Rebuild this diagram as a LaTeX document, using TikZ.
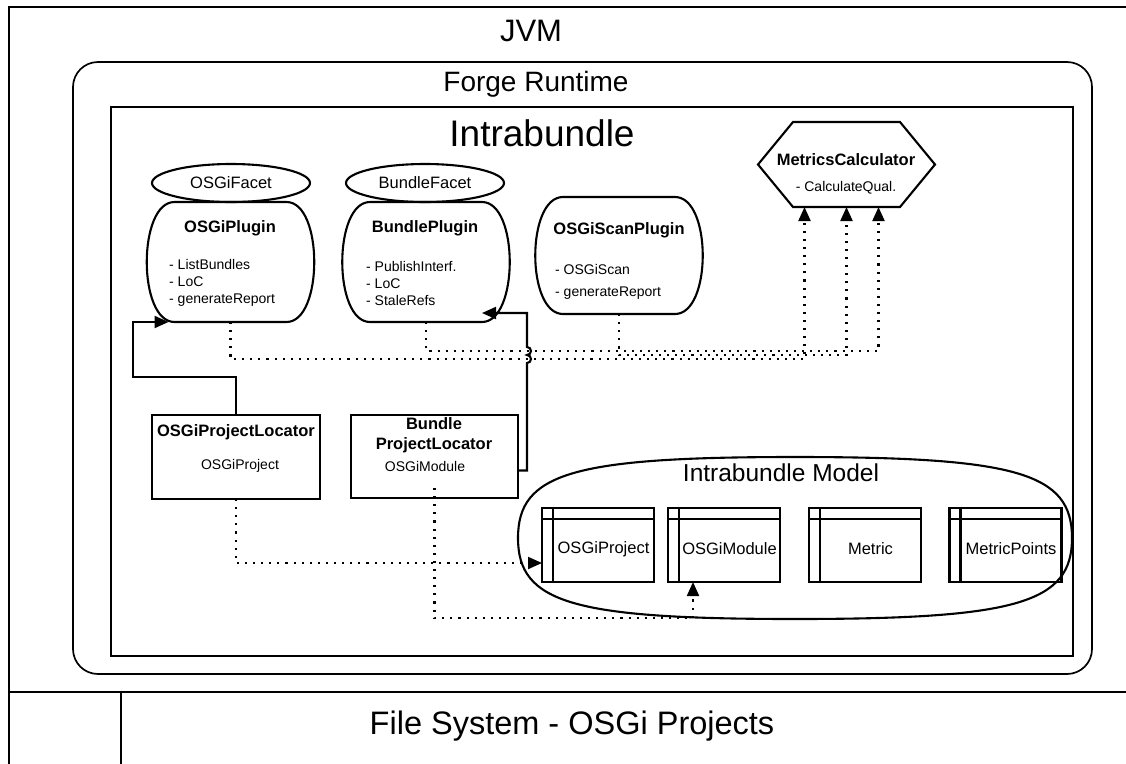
\documentclass[tikz,border=0pt]{standalone}
\usepackage{fontspec}
\setmainfont{Liberation Sans}
\usetikzlibrary{calc}
\usetikzlibrary{arrows.meta}
\usetikzlibrary{shapes.geometric}

\newcommand\pluginoutline[1]{%
    \draw[outline] ($(#1.north west)+(28,0)$) -- ($(#1.north east)+(-28,0)$)
        .. controls ($(#1.north east)+(9,0)$) and ($(#1.south east)+(9,0)$) .. ($(#1.south east)+(-28,0)$)
        -- ($(#1.south west)+(28,0)$)
        .. controls ($(#1.south west)+(-9,0)$) and ($(#1.north west)+(-9,0)$) .. cycle;}
\newcommand\storagelines[1]{%
    \draw[outline] ($(#1.north west)+(11,0)$) -- ($(#1.south west)+(11,0)$);
    \draw[outline] ($(#1.north west)+(0,11)$) -- ($(#1.north east)+(0,11)$);}

\tikzset{
    outline/.style={line width=2.1pt},
    jvmline/.style={line width=2.5pt},
    plug/.style={inner sep=0pt, outer sep=0pt, minimum width=168, minimum height=120},
    facet/.style={draw, ellipse, line width=2.1pt, inner sep=0pt, outer sep=0pt,
        minimum width=158, minimum height=38, font=\fontsize{16.5}{18}\selectfont},
    plugtitle/.style={font=\fontsize{16.5}{18}\selectfont\bfseries, inner sep=0pt},
    plugitem/.style={anchor=west, align=left, inner sep=0pt, font=\fontsize{14}{17}\selectfont},
    locator/.style={draw, line width=2.1pt, inner sep=0pt, outer sep=0pt,
        minimum width=168, minimum height=84},
    storage/.style={draw, line width=2.1pt, inner sep=0pt, outer sep=0pt,
        minimum width=112, minimum height=74},
    tabletext/.style={inner sep=0pt, font=\fontsize{16.5}{18}\selectfont},
    flow/.style={line width=2.1pt, -{Triangle[length=14pt,width=12pt]}},
    dotflow/.style={line width=2.1pt, dash pattern=on 2.1pt off 6pt,
        -{Triangle[length=14pt,width=12pt]}}
}

\begin{document}
\begin{tikzpicture}[x=1pt, y=-1pt]
    \useasboundingbox (0,0) rectangle (1126,763);

    \draw[jvmline] (1140,7) -- (9,7) -- (9,780);
    \draw[jvmline] (9,692) -- (1140,692);
    \draw[line width=1.6pt] (121,692) -- (121,780);
    \node[inner sep=0pt] (jvmlbl) at (531,31) {\fontsize{31}{36}\selectfont JVM};
    \node[inner sep=0pt] (fslbl) at (572,726) {\fontsize{32.5}{38}\selectfont File System - OSGi Projects};

    \draw[line width=1.7pt, rounded corners=25pt] (73,62) rectangle (1092,674);
    \node[inner sep=0pt] (forgelbl) at (536,84) {\fontsize{28}{32}\selectfont Forge Runtime};

    \draw[line width=2.2pt] (111,107) rectangle (1073,656);
    \node[inner sep=0pt] (intralbl) at (542,133) {\fontsize{37}{42}\selectfont Intrabundle};

    \node[facet] (ofacet) at (231,183) {OSGiFacet};
    \node[facet] (bfacet) at (425,183) {BundleFacet};

    \node[plug] (oplug) at (230.5,262) {};
    \pluginoutline{oplug}
    \node[plugtitle] (oplugname) at (230,228) {OSGiPlugin};
    \node[plugitem] (oplugops) at (169,283) {- ListBundles\\- LoC\\- generateReport};

    \node[plug] (bplug) at (426,262) {};
    \pluginoutline{bplug}
    \node[plugtitle] (bplugname) at (425,228) {BundlePlugin};
    \node[plugitem] (bplugops) at (366,283) {- PublishInterf.\\- LoC\\- StaleRefs};

    \node[plug, minimum height=117] (scan) at (619,255.5) {};
    \pluginoutline{scan}
    \node[plugtitle] (scanname) at (619,230) {OSGiScanPlugin};
    \node[plugitem, font=\fontsize{14}{22}\selectfont] (scanops) at (555,282) {- OSGiScan\\- generateReport};

    \node[plug, minimum width=177, minimum height=85] (mcalc) at (846.5,164.5) {};
    \draw[outline] (mcalc.west) -- ($(mcalc.north west)+(35,0)$) -- ($(mcalc.north east)+(-35,0)$)
        -- (mcalc.east) -- ($(mcalc.south east)+(-35,0)$) -- ($(mcalc.south west)+(35,0)$) -- cycle;
    \node[plugtitle] (mcalcname) at (846,160) {MetricsCalculator};
    \node[inner sep=0pt, font=\fontsize{14}{17}\selectfont] (mcalcops) at (846,188) {- CalculateQual.};

    \node[locator] (opl) at (236,457) {};
    \node[plugtitle] (oplname) at (236,432) {OSGiProjectLocator};
    \node[inner sep=0pt, font=\fontsize{14}{17}\selectfont] (oplitem) at (240,466) {OSGiProject};

    \node[locator, minimum width=167, minimum height=83] (bpl) at (434.5,456.5) {};
    \node[plugtitle, align=center, font=\fontsize{16.5}{20}\selectfont\bfseries] (bplname) at (434,435) {Bundle\\ProjectLocator};
    \node[inner sep=0pt, font=\fontsize{14}{17}\selectfont] (bplitem) at (425,466) {OSGiModule};

    \draw[outline] (518,538) .. controls (518,473) and (573,457) .. (795,457)
        .. controls (1017,457) and (1072,473) .. (1072,538)
        .. controls (1072,603) and (1017,619) .. (795,619)
        .. controls (573,619) and (518,603) .. cycle;
    \node[inner sep=0pt] (modellbl) at (781,473) {\fontsize{24.5}{28}\selectfont Intrabundle Model};

    \node[storage] (proj) at (598,545) {};
    \node[storage] (mod) at (724,545) {};
    \node[storage] (metric) at (865,545) {};
    \node[storage] (mpoints) at (1005.5,545) {};
    \storagelines{proj}
    \storagelines{mod}
    \storagelines{metric}
    \storagelines{mpoints}
    \node[tabletext] (projtxt) at ($(proj.center)+(5.5,4)$) {OSGiProject};
    \node[tabletext] (modtxt) at ($(mod.center)+(5.5,4)$) {OSGiModule};
    \node[tabletext] (metrictxt) at ($(metric.center)+(5.5,4)$) {Metric};
    \node[tabletext] (mpointstxt) at ($(mpoints.center)+(5.5,4)$) {MetricPoints};

    \coordinate (oplbend) at (133,377);
    \draw[flow] (opl.north) |- (oplbend) |- ($(oplug.south west)+(22,0)$);
    \coordinate (hoplow) at (527,363);
    \coordinate (hophigh) at (527,355);
    \coordinate (bplbend) at (527,313);
    \draw[flow] ($(bpl.east)+(0,14)$) -| (hoplow) arc[start angle=90, end angle=-90, radius=4]
        -- (hophigh) arc[start angle=90, end angle=-90, radius=4]
        -- (bplbend) -- ($(bplug.south east)+(-28,-9)$);

    \draw[dotflow] (oplug.south) -- ++(0,37) -| ($(mcalc.south)+(-42,0)$);
    \draw[dotflow] (bplug.south) -- ++(0,29) -| ($(mcalc.south)+(32,0)$);
    \draw[dotflow] (scan.south) -- ++(0,41) -| (mcalc.south);

    \draw[dotflow] (opl.south) |- ($(proj.west)+(0,18)$);
    \draw[dotflow] ($(bpl.south)+(0,-10)$) -- ++(0,130) -| ($(mod.south)+(-31,0)$);
\end{tikzpicture}
\end{document}
